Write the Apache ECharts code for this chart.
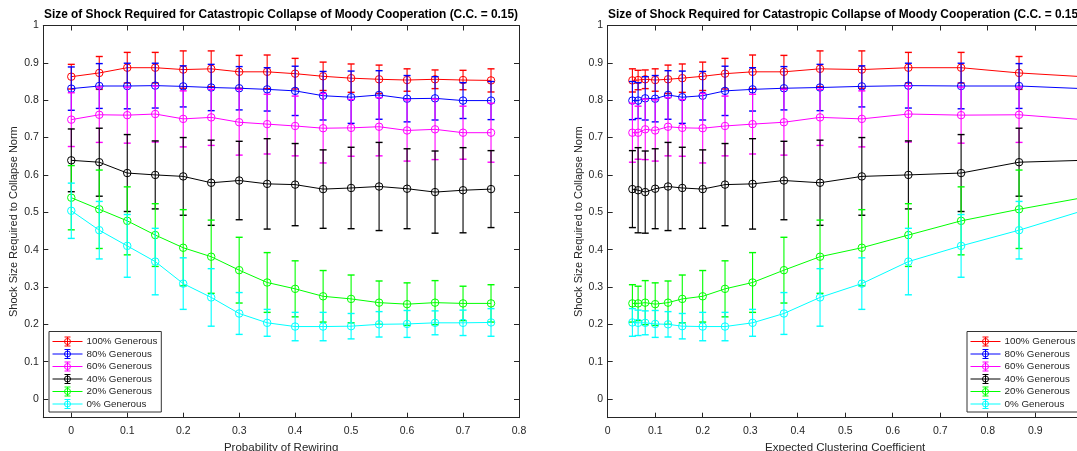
<!DOCTYPE html>
<html>
<head>
<meta charset="utf-8">
<script src="https://cdn.jsdelivr.net/npm/echarts@6/dist/echarts.min.js"></script>
<style>
html,body{margin:0;padding:0;background:#fff;}
#chart{width:1077px;height:451px;}
</style>
</head>
<body>
<div id="chart"></div>
<script>
// ---- data ----
const rewiring = [0, 0.05, 0.1, 0.15, 0.2, 0.25, 0.3, 0.35, 0.4, 0.45, 0.5, 0.55, 0.6, 0.65, 0.7, 0.75];
const clustering = [1.0, 0.866, 0.744, 0.633, 0.535, 0.447, 0.371, 0.305, 0.247, 0.200, 0.157, 0.127, 0.100, 0.079, 0.064, 0.052];

const seriesNames = ['100% Generous', '80% Generous', '60% Generous', '40% Generous', '20% Generous', '0% Generous'];

const gen100 = [0.863, 0.873, 0.887, 0.887, 0.882, 0.884, 0.876, 0.876, 0.871, 0.864, 0.859, 0.856, 0.854, 0.856, 0.854, 0.853];
const err100 = [0.033, 0.044, 0.041, 0.041, 0.050, 0.048, 0.044, 0.045, 0.041, 0.038, 0.038, 0.038, 0.030, 0.025, 0.026, 0.031];
const gen80  = [0.831, 0.838, 0.838, 0.839, 0.837, 0.834, 0.832, 0.829, 0.825, 0.812, 0.808, 0.814, 0.804, 0.805, 0.799, 0.799];
const err80  = [0.058, 0.060, 0.061, 0.060, 0.055, 0.062, 0.058, 0.058, 0.066, 0.065, 0.070, 0.065, 0.062, 0.058, 0.048, 0.051];
const gen60  = [0.748, 0.761, 0.760, 0.763, 0.750, 0.754, 0.741, 0.736, 0.731, 0.725, 0.726, 0.729, 0.719, 0.722, 0.713, 0.713];
const err60  = [0.072, 0.074, 0.075, 0.075, 0.075, 0.075, 0.088, 0.080, 0.080, 0.093, 0.076, 0.078, 0.082, 0.081, 0.071, 0.079];
const gen40  = [0.639, 0.634, 0.605, 0.600, 0.596, 0.579, 0.585, 0.576, 0.574, 0.562, 0.565, 0.569, 0.563, 0.554, 0.559, 0.562];
const err40  = [0.084, 0.091, 0.103, 0.091, 0.104, 0.114, 0.105, 0.121, 0.110, 0.105, 0.109, 0.118, 0.107, 0.110, 0.114, 0.103];
const gen20  = [0.539, 0.508, 0.477, 0.439, 0.405, 0.381, 0.345, 0.312, 0.295, 0.275, 0.268, 0.258, 0.254, 0.258, 0.256, 0.256];
const err20  = [0.086, 0.105, 0.091, 0.084, 0.102, 0.098, 0.088, 0.080, 0.075, 0.069, 0.064, 0.058, 0.057, 0.059, 0.046, 0.050];
const gen0   = [0.504, 0.452, 0.410, 0.368, 0.309, 0.272, 0.229, 0.204, 0.194, 0.194, 0.195, 0.200, 0.201, 0.204, 0.204, 0.205];
const err0   = [0.074, 0.077, 0.084, 0.089, 0.069, 0.077, 0.056, 0.036, 0.038, 0.038, 0.034, 0.034, 0.036, 0.032, 0.034, 0.037];

const xTicksLeft = [0, 0.1, 0.2, 0.3, 0.4, 0.5, 0.6, 0.7, 0.8];
const xTicksRight = [0, 0.1, 0.2, 0.3, 0.4, 0.5, 0.6, 0.7, 0.8, 0.9, 1];
const yTicks = [0, 0.1, 0.2, 0.3, 0.4, 0.5, 0.6, 0.7, 0.8, 0.9, 1];

const titleText = 'Size of Shock Required for Catastropic Collapse of Moody Cooperation (C.C. = 0.15)';
const yName = 'Shock Size Required to Collapse Norm';
const xNameLeft = 'Probability of Rewiring';
const xNameRight = 'Expected Clustering Coefficient';

// ---- styling ----
const means = [gen100, gen80, gen60, gen40, gen20, gen0];
const errs = [err100, err80, err60, err40, err20, err0];
const colors = ['#ff0000', '#0000ff', '#ff00ff', '#000000', '#00ff00', '#00ffff'];
const axisColor = '#262626';
const FONT = '"Liberation Sans", Arial, Helvetica, sans-serif';

const legendIcon = 'path://M0,4.5L30,4.5M15,0L15,9M12,0L18,0M12,9L18,9M18,4.5A3,3 0 1 1 12,4.5A3,3 0 1 1 18,4.5';

function fmt(v) { return String(Math.round(v * 10) / 10); }

function makeAxes(gi, xmin, xmax, xTicks, xName, yNameGap) {
  const xAxes = [
    {
      type: 'value', gridIndex: gi, position: 'bottom', min: xmin, max: xmax,
      name: xName, nameLocation: 'middle', nameGap: 19.5,
      nameTextStyle: { color: axisColor, fontSize: 11.5, fontFamily: FONT },
      axisLine: { show: true, onZero: false, lineStyle: { color: axisColor, width: 1 } },
      axisTick: { show: true, inside: true, length: 5, customValues: xTicks, lineStyle: { color: axisColor } },
      axisLabel: { show: true, customValues: xTicks, margin: 8, color: axisColor, fontSize: 10.5, fontFamily: FONT, formatter: fmt },
      splitLine: { show: false }
    },
    {
      type: 'value', gridIndex: gi, position: 'top', min: xmin, max: xmax,
      axisLine: { show: true, onZero: false, lineStyle: { color: axisColor, width: 1 } },
      axisTick: { show: true, inside: true, length: 5, customValues: xTicks, lineStyle: { color: axisColor } },
      axisLabel: { show: false },
      splitLine: { show: false }
    }
  ];
  const yAxes = [
    {
      type: 'value', gridIndex: gi, position: 'left', min: -0.05, max: 1,
      name: yName, nameLocation: 'middle', nameGap: yNameGap,
      nameTextStyle: { color: axisColor, fontSize: 11, fontFamily: FONT },
      axisLine: { show: true, onZero: false, lineStyle: { color: axisColor, width: 1 } },
      axisTick: { show: true, inside: true, length: 5, customValues: yTicks, lineStyle: { color: axisColor } },
      axisLabel: { show: true, customValues: yTicks, margin: 4.5, color: axisColor, fontSize: 10.5, fontFamily: FONT, formatter: fmt },
      splitLine: { show: false }
    },
    {
      type: 'value', gridIndex: gi, position: 'right', min: -0.05, max: 1,
      axisLine: { show: true, onZero: false, lineStyle: { color: axisColor, width: 1 } },
      axisTick: { show: true, inside: true, length: 5, customValues: yTicks, lineStyle: { color: axisColor } },
      axisLabel: { show: false },
      splitLine: { show: false }
    }
  ];
  return { xAxes, yAxes };
}

const left = makeAxes(0, -0.05, 0.8, xTicksLeft, xNameLeft, 24);
const right = makeAxes(1, 0, 1, xTicksRight, xNameRight, 22);

const series = [];
function addGroup(gi, xs) {
  const xIdx = gi * 2, yIdx = gi * 2;
  means.forEach((m, k) => {
    const c = colors[k];
    const ebData = xs.map((x, i) => [x, m[i] - errs[k][i], m[i] + errs[k][i]]);
    series.push({
      type: 'custom',
      name: seriesNames[k],
      xAxisIndex: xIdx, yAxisIndex: yIdx,
      z: 3 + k * 2,
      silent: true,
      clip: false,
      encode: { x: 0, y: [1, 2] },
      data: ebData,
      renderItem: function (params, api) {
        const x = api.value(0);
        const lo = api.coord([x, api.value(1)]);
        const hi = api.coord([x, api.value(2)]);
        const w = 3.5;
        return {
          type: 'group',
          children: [
            { type: 'line', shape: { x1: lo[0], y1: lo[1], x2: hi[0], y2: hi[1] }, style: { stroke: c, lineWidth: 1.1 } },
            { type: 'line', shape: { x1: lo[0] - w, y1: lo[1], x2: lo[0] + w, y2: lo[1] }, style: { stroke: c, lineWidth: 1.4 } },
            { type: 'line', shape: { x1: hi[0] - w, y1: hi[1], x2: hi[0] + w, y2: hi[1] }, style: { stroke: c, lineWidth: 1.4 } }
          ]
        };
      }
    });
    series.push({
      type: 'line',
      name: seriesNames[k],
      xAxisIndex: xIdx, yAxisIndex: yIdx,
      z: 4 + k * 2,
      data: xs.map((x, i) => [x, m[i]]),
      symbol: 'circle',
      symbolSize: 7.5,
      showSymbol: true,
      animation: false,
      lineStyle: { color: c, width: 1 },
      itemStyle: { color: 'rgba(0,0,0,0)', borderColor: c, borderWidth: 1 },
      emphasis: { disabled: true }
    });
  });
}
addGroup(0, rewiring);
addGroup(1, clustering);

function legendData() {
  return seriesNames.map((n, k) => ({
    name: n,
    icon: legendIcon,
    itemStyle: { color: 'rgba(0,0,0,0)', borderColor: colors[k], borderWidth: 1 }
  }));
}
function makeLegend(leftPx) {
  return {
    orient: 'vertical',
    left: leftPx, bottom: 39,
    data: legendData(),
    itemWidth: 30, itemHeight: 9,
    itemGap: 2.5,
    padding: [5, 4, 3, 3],
    backgroundColor: '#ffffff',
    borderColor: '#333333',
    borderWidth: 1,
    borderRadius: 0,
    selectedMode: false,
    textStyle: { color: axisColor, fontSize: 9.8, fontFamily: FONT, padding: [0, 0, 0, -1] }
  };
}

const option = {
  animation: false,
  backgroundColor: '#ffffff',
  title: [
    { text: titleText, left: 281, top: 9, textAlign: 'center', padding: 0,
      textStyle: { color: '#000', fontSize: 11.9, fontWeight: 'bold', fontFamily: FONT } },
    { text: titleText, left: 845, top: 9, textAlign: 'center', padding: 0,
      textStyle: { color: '#000', fontSize: 11.9, fontWeight: 'bold', fontFamily: FONT } }
  ],
  grid: [
    { left: 43.3, width: 475.7, top: 25.5, bottom: 33.3, containLabel: false, outerBoundsMode: 'none' },
    { left: 607.7, width: 475, top: 25.5, bottom: 33.3, containLabel: false, outerBoundsMode: 'none' }
  ],
  xAxis: left.xAxes.concat(right.xAxes),
  yAxis: left.yAxes.concat(right.yAxes),
  legend: [makeLegend(49), makeLegend(967)],
  series: series
};

const chart = echarts.init(document.getElementById('chart'), null, { renderer: 'canvas' });
chart.setOption(option);
</script>
</body>
</html>
